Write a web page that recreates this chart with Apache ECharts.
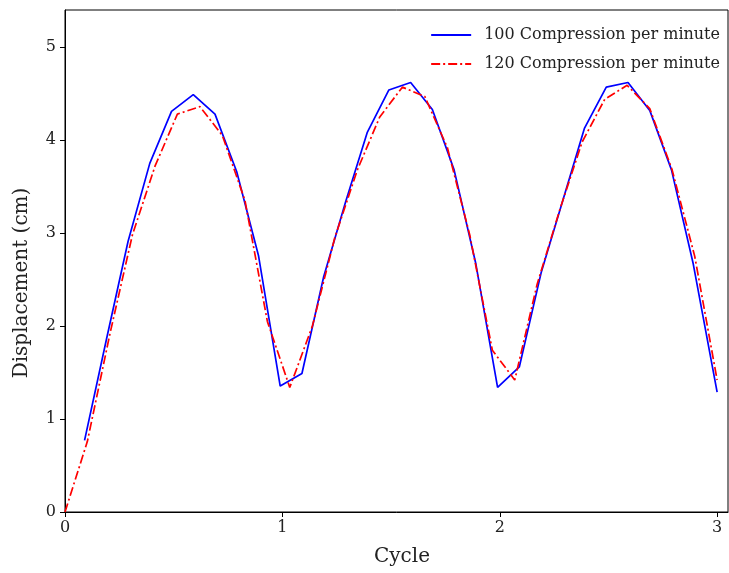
<!DOCTYPE html>
<html>
<head>
<meta charset="utf-8">
<script src="https://cdn.jsdelivr.net/npm/echarts@6/dist/echarts.min.js"></script>
<style>html,body{margin:0;padding:0;background:#fff}#c{width:729px;height:573px}</style>
</head>
<body>
<div id="c"></div>
<script>
const seriesNames = ['100 Compression per minute', '120 Compression per minute'];
const blueX = [0.09,0.19,0.29,0.39,0.49,0.59,0.69,0.79,0.89,0.99,1.09,1.19,1.29,1.39,1.49,1.59,1.69,1.79,1.89,1.99,2.09,2.19,2.29,2.39,2.49,2.59,2.69,2.79,2.89,3.0];
const blueY = [0.77,1.85,2.91,3.75,4.31,4.49,4.28,3.66,2.76,1.355,1.49,2.53,3.33,4.08,4.54,4.62,4.33,3.68,2.67,1.34,1.56,2.57,3.35,4.13,4.57,4.62,4.32,3.68,2.67,1.29];
const redX = [0,0.103,0.207,0.310,0.414,0.517,0.621,0.724,0.828,0.931,1.034,1.138,1.241,1.345,1.448,1.552,1.655,1.759,1.862,1.966,2.069,2.172,2.276,2.379,2.483,2.586,2.690,2.793,2.897,3.0];
const redY = [0,0.76,1.92,2.98,3.72,4.28,4.36,4.05,3.35,2.05,1.34,2.0,2.95,3.68,4.25,4.57,4.47,3.92,2.98,1.74,1.42,2.45,3.25,3.98,4.44,4.59,4.34,3.68,2.75,1.42];
const xTicks = [0,1,2,3];
const yTicks = [0,1,2,3,4,5];
const xTitle = 'Cycle';
const yTitle = 'Displacement (cm)';

const font = 'DejaVu Serif';
const chart = echarts.init(document.getElementById('c'));
chart.setOption({
  animation: false,
  backgroundColor: '#fff',
  grid: {left: 65, right: 1, top: 10, bottom: 61, show: true, borderColor: '#000', borderWidth: 1, backgroundColor: 'transparent'},
  legend: {
    orient: 'vertical', right: 4, top: 22, itemWidth: 40, itemHeight: 14, itemGap: 13,
    itemStyle: {opacity: 0},
    textStyle: {fontFamily: font, fontSize: 16, color: '#222', padding: [0, 0, 0, 8]},
    data: seriesNames.map(n => ({name: n}))
  },
  graphic: [
    {type: 'text', x: 402, y: 557, style: {text: xTitle, font: '20px "DejaVu Serif"', fill: '#222', align: 'center', verticalAlign: 'middle'}},
    {type: 'text', x: 22, y: 283, rotation: Math.PI / 2, style: {text: yTitle, font: '20px "DejaVu Serif"', fill: '#222', align: 'center', verticalAlign: 'middle'}}
  ],
  xAxis: {
    type: 'value', min: 0, max: 3.05, interval: 1,
    axisLine: {show: true, lineStyle: {color: '#000', width: 1}},
    axisTick: {show: true, inside: false, length: 5, lineStyle: {color: '#000'}, customValues: xTicks},
    axisLabel: {fontFamily: font, fontSize: 16, color: '#222', margin: 8, customValues: xTicks},
    splitLine: {show: false}
  },
  yAxis: {
    type: 'value', min: 0, max: 5.4, interval: 1,
    axisLine: {show: true, lineStyle: {color: '#000', width: 1}},
    axisTick: {show: true, inside: false, length: 5, lineStyle: {color: '#000'}, customValues: yTicks},
    axisLabel: {fontFamily: font, fontSize: 16, color: '#222', margin: 9, customValues: yTicks},
    splitLine: {show: false}
  },
  series: [
    {name: seriesNames[0], type: 'line', showSymbol: false, symbol: 'none',
     data: blueX.map((x, i) => [x, blueY[i]]),
     lineStyle: {color: '#0000ff', width: 1.7}, itemStyle: {color: '#0000ff'}},
    {name: seriesNames[1], type: 'line', showSymbol: false, symbol: 'none',
     data: redX.map((x, i) => [x, redY[i]]),
     lineStyle: {color: '#ff0000', width: 1.7, type: [9, 3, 2, 3]}, itemStyle: {color: '#ff0000'}}
  ]
});
</script>
</body>
</html>
